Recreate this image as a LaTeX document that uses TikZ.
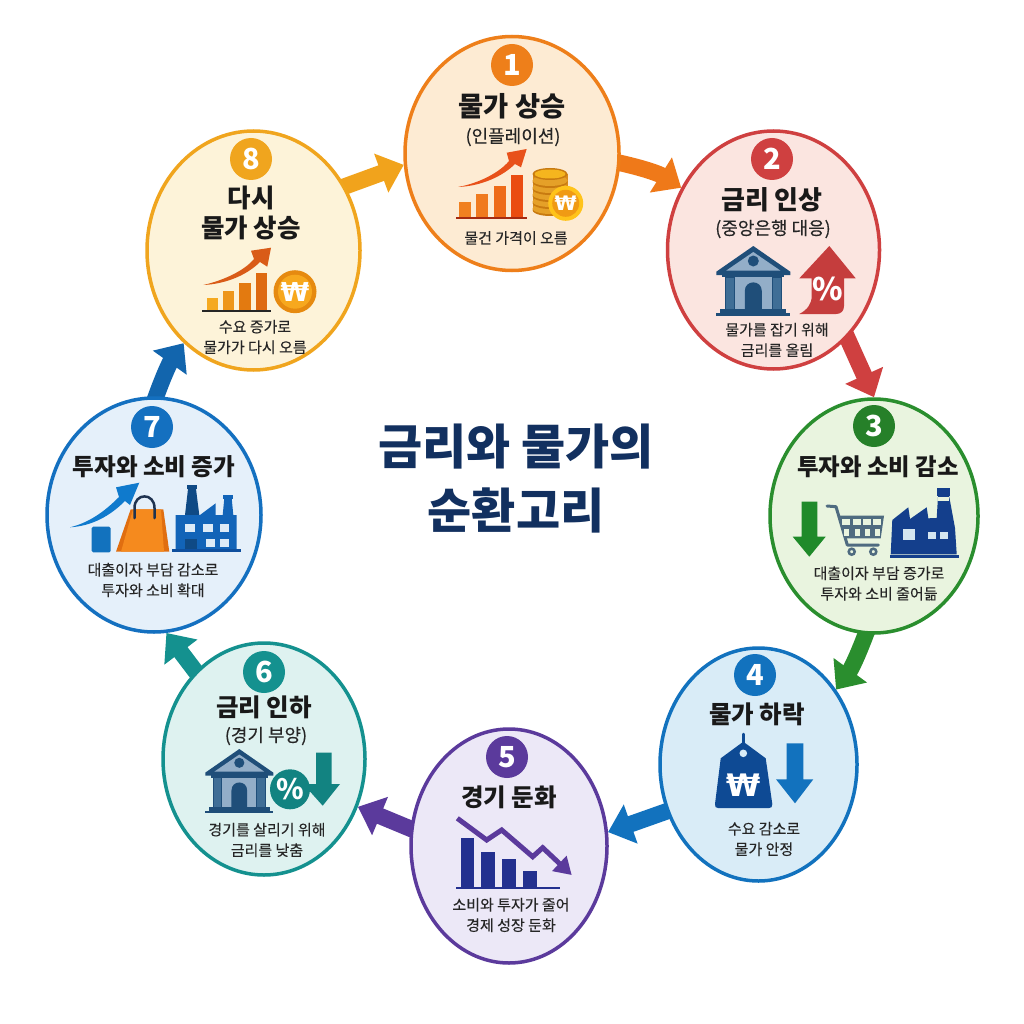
\documentclass[tikz,border=0pt]{standalone}
\usepackage{fontspec}
\setmainfont{Noto Sans CJK KR}
\newfontfamily\dfont[FakeBold=0.2]{Noto Sans CJK KR}
\newfontfamily\wonf{DejaVu Sans}
\usetikzlibrary{shapes.geometric,arrows.meta}
\pgfdeclarelayer{back}
\pgfsetlayers{back,main}
\definecolor{c1}{HTML}{EE7F1A}\definecolor{f1}{HTML}{FDEBD3}
\definecolor{c2}{HTML}{CF4040}\definecolor{f2}{HTML}{FBE5E0}
\definecolor{c3}{HTML}{2A8E2E}\definecolor{f3}{HTML}{E9F4DF}
\definecolor{c4}{HTML}{1272BE}\definecolor{f4}{HTML}{D9ECF7}
\definecolor{c5}{HTML}{5B3A9C}\definecolor{f5}{HTML}{ECE8F7}
\definecolor{c6}{HTML}{14918F}\definecolor{f6}{HTML}{DEF2F0}
\definecolor{c7}{HTML}{1470C0}\definecolor{f7}{HTML}{E5F0FA}
\definecolor{c8}{HTML}{F0A51E}\definecolor{f8}{HTML}{FDF3D9}
\definecolor{navy}{HTML}{12305F}
\definecolor{bankd}{HTML}{1F4E79}\definecolor{bankm}{HTML}{3F6E96}\definecolor{bankl}{HTML}{93AEC8}
\tikzset{
  x=1pt,y=-1pt,
  hexc/.code={\definecolor{tmpc}{HTML}{#1}\pgfkeysalso{color=tmpc}},
  stage/.style={ellipse,draw,line width=3.5pt,inner sep=0pt},
  badge/.style={circle,inner sep=0pt,minimum size=42pt,text=white,font=\fontsize{29}{29}\selectfont\bfseries},
  ttl/.style={inner sep=0pt,align=center,text=black!90,font=\fontsize{#1}{30}\selectfont\bfseries},
  ttl/.default=24.5,
  sub/.style={inner sep=0pt,align=center,text=black!85,font=\dfont\fontsize{18}{20}\selectfont},
  desc/.style={inner sep=0pt,align=center,text=black!85,font=\dfont\fontsize{15}{20.5}\selectfont},
  link/.style={line width=16.5pt,shorten <=-7pt,-{Triangle[length=24pt,width=40pt]}},
  won/.style={inner sep=0pt,text=white,font=\bfseries},
  wonsign/.style={inner sep=0pt,text=white,font=\wonf\fontsize{#1}{#1}\selectfont\bfseries},
  bank/.pic={
    \fill[bankd] (0,0) -- (37,25.7) -- (37,29) -- (-37,29) -- (-37,25.7) -- cycle;
    \fill[bankl] (0,6) -- (27,24.5) -- (-27,24.5) -- cycle;
    \fill[bankd] (0,15) circle (5.5);
    \fill[bankd] (-31,27) rectangle (31,31);
    \fill[bankl] (-28,31) rectangle (28,64);
    \fill[bankm,draw=bankd,line width=.8pt] (-28,31) rectangle (-19,64);
    \fill[bankm,draw=bankd,line width=.8pt] (19,31) rectangle (28,64);
    \fill[bankd] (-8.5,66) -- (-8.5,45) .. controls (-8.5,33.5) and (8.5,33.5) .. (8.5,45) -- (8.5,66) -- cycle;
    \fill[bankd] (-33,63) rectangle (33,67);
    \fill[bankd] (-37,67) rectangle (37,70);
  }
}
\begin{document}
\begin{tikzpicture}
\useasboundingbox (0,0) rectangle (1024,1024);
% stages
\node[stage,draw=c1,fill=f1,minimum width=214pt,minimum height=234pt] (n1) at (512,153.5) {};
\node[stage,draw=c2,fill=f2,minimum width=212pt,minimum height=238pt] (n2) at (773.5,250) {};
\node[stage,draw=c3,fill=f3,minimum width=208pt,minimum height=234pt] (n3) at (874,516) {};
\node[stage,draw=c4,fill=f4,minimum width=197pt,minimum height=233pt] (n4) at (758.5,764.5) {};
\node[stage,draw=c5,fill=f5,minimum width=196pt,minimum height=234pt] (n5) at (509,846) {};
\node[stage,draw=c6,fill=f6,minimum width=202pt,minimum height=232pt] (n6) at (264,759) {};
\node[stage,draw=c7,fill=f7,minimum width=214pt,minimum height=234pt] (n7) at (154,515) {};
\node[stage,draw=c8,fill=f8,minimum width=213pt,minimum height=239pt] (n8) at (253.5,250.5) {};
% connectors
\begin{pgfonlayer}{back}
\fill[white] (0,0) rectangle (1024,1024);
\draw[link,draw=c1!95!red] (n1.-5) to[bend left=10] (n2.146);
\draw[link,draw=c2] (n2.-50.6) to (n3.90.5);
\draw[link,draw=c3] (n3.-94.4) to[bend left=8] (n4.44.6);
\draw[link,draw=c4] (n4.207.4) to (n5.8);
\draw[link,draw=c5] (n5.170.5) to (n6.-27.5);
\draw[link,draw=c6] (n6.128.7) to (n7.-84);
\draw[link,draw=c7!90!black] (n7.89.5) to[bend left=8] (n8.233.8);
\draw[link,draw=c8!95!orange] (n8.35.4) to (n1.186);
\end{pgfonlayer}
% badges
\node[badge,fill=c1] (b1) at (512,65) {1};
\node[badge,fill=c2] (b2) at (772,159) {2};
\node[badge,fill=c3!90!black] (b3) at (874,426) {3};
\node[badge,fill=c4] (b4) at (755,675) {4};
\node[badge,fill=c5] (b5) at (507,757) {5};
\node[badge,fill=c6] (b6) at (264,672) {6};
\node[badge,fill=c7] (b7) at (152,427) {7};
\node[badge,fill=c8] (b8) at (251,159) {8};
% titles
\node[ttl=27.3] (t1) at (512,106) {물가 상승};
\node[ttl=26] (t2) at (772,200) {금리 인상};
\node[ttl=23.4] (t3) at (878,467) {투자와 소비 감소};
\node[ttl] (t4) at (757,714) {물가 하락};
\node[ttl] (t5) at (509,797) {경기 둔화};
\node[ttl] (t6) at (264,707) {금리 인하};
\node[ttl=23.6] (t7) at (154,467) {투자와 소비 증가};
\node[ttl=25.5] (t8) at (251,213) {다시\\물가 상승};
% subtitles
\node[sub] (s1) at (513,137) {(인플레이션)};
\node[sub] (s2) at (773,229) {(중앙은행 대응)};
\node[sub] (s6) at (266,736) {(경기 부양)};
% descriptions
\node[desc] (d1) at (516,238) {물건 가격이 오름};
\node[desc] (d2) at (777,340) {물가를 잡기 위해\\금리를 올림};
\node[desc] (d3) at (879,583.5) {대출이자 부담 증가로\\투자와 소비 줄어듦};
\node[desc] (d4) at (764,839) {수요 감소로\\물가 안정};
\node[desc] (d5) at (511,915) {소비와 투자가 줄어\\경제 성장 둔화};
\node[desc] (d6) at (267,840) {경기를 살리기 위해\\금리를 낮춤};
\node[desc] (d7) at (153,580) {대출이자 부담 감소로\\투자와 소비 확대};
\node[desc] (d8) at (255,337) {수요 증가로\\물가가 다시 오름};
% centre title
\node[inner sep=0pt,align=center,text=navy,font=\fontsize{48}{64}\selectfont\bfseries] (main) at (516,479) {금리와 물가의\\순환고리};
% icon 1
\fill[hexc=F08020] (459.3,202) rectangle (471.3,217);
\fill[hexc=F07A1E] (476,194) rectangle (488.3,217);
\fill[hexc=EE6B18] (493.7,185.7) rectangle (505.7,217);
\fill[hexc=EA4C10] (510.7,175) rectangle (523,217);
\draw[line width=2.5pt,hexc=A52A10] (456,218) -- (527,218);
\fill[hexc=E8511A] (458,187) .. controls (480,183) and (500,172) .. (509,161) -- (506.7,152.7) -- (526.7,149) -- (521,167.3) -- (515,164) .. controls (503,176) and (482,186) .. cycle;
\fill[hexc=D98A1A] (532.5,174) rectangle (567.5,212);
\foreach \yy in {210,203,196,189,182}{
  \fill[hexc=C87A10] (550,\yy) ellipse (17.5 and 6);
  \fill[hexc=E5A028] (550,\yy-1.5) ellipse (17.5 and 5.5);
}
\fill[hexc=C87A10] (550,174) ellipse (17.5 and 6);
\fill[hexc=F5B51E] (550,174) ellipse (15.5 and 4.5);
\fill[hexc=FFC31A] (565.7,203.3) circle (17.5);
\fill[hexc=F09A14] (565.7,203.3) circle (13.5);
\node[wonsign=20] (w1) at (565.7,203.3) {₩};
% icon 2
\pic at (753.3,246) {bank};
\fill[c2!95!black] (829.3,246) -- (855.7,278.3) -- (844,278.3) -- (844,306) .. controls (844,311) and (841,314) .. (836,314) -- (799.3,314) .. controls (807,310) and (811.7,304) .. (811.7,296) -- (811.7,278.3) -- (799.3,278.3) -- cycle;
\node[won,font=\fontsize{31}{31}\selectfont\bfseries] (pc2) at (828,289) {\%};
% icon 3
\fill[hexc=1F8A2A] (801.7,501.7) -- (817.3,501.7) -- (817.3,536.7) -- (825.7,536.7) -- (809.3,556.7) -- (792.7,536.7) -- (801.7,536.7) -- cycle;
\draw[hexc=4F6B80,line width=3pt,line join=round,line cap=round] (827,506) -- (836,506.7) -- (847.3,545) -- (878.3,545);
\fill[hexc=4F6B80] (839,515.7) -- (884,515.7) -- (880.7,538.3) -- (846,538.3) -- cycle;
\foreach \a/\b in {842/850,853.3/860.5,863.3/870.5,873.3/881}{
  \fill[f3] (\a,519) rectangle (\b,525);
  \fill[f3] (\a+1.5,528.5) rectangle (\b-1,535.5);
}
\draw[hexc=4F6B80,line width=2.5pt,fill=f3] (851.7,551.7) circle (3);
\draw[hexc=4F6B80,line width=2.5pt,fill=f3] (873.3,551.7) circle (3);
\fill[hexc=143F8C] (892.3,520) -- (908.3,507.3) -- (910,519) -- (926.7,507.3) -- (928.3,518.3) -- (936.7,518) -- (938.3,491.7) -- (948.3,491.7) -- (955,528) -- (956.7,554.3) -- (890.7,554.3) -- cycle;
\fill[hexc=143F8C] (936.7,487.7) rectangle (950,495.5);
\fill[f3] (937.5,496.5) rectangle (948.5,500.5);
\draw[hexc=143F8C,line width=3pt] (890,556) -- (959.3,556);
\fill[hexc=D5E6F0] (903.3,529.3) rectangle (915,540);
\fill[hexc=D5E6F0] (928.3,532.3) rectangle (936,539);
\fill[hexc=D5E6F0] (940,532.3) rectangle (948.3,539);
% icon 4
\draw[hexc=0E4A94,line width=2.5pt,line cap=round] (743.3,734) -- (743.3,744);
\fill[hexc=0E4A94] (743.3,741.7) -- (765.7,758.3) -- (772.3,804) .. controls (772.8,807) and (771,808) .. (769,808) -- (718,808) .. controls (716,808) and (714.5,807) .. (715,804) -- (720.7,758.3) -- cycle;
\fill[f4] (743.3,753.3) circle (3.8);
\node[wonsign=31] (w4) at (743.3,785) {₩};
\fill[c4] (786.7,743.3) -- (803.3,743.3) -- (803.3,779.3) -- (813.3,779.3) -- (795,803.3) -- (776,779.3) -- (786.7,779.3) -- cycle;
% icon 5
\foreach \a/\b/\t in {460.7/474.3/838.3,481/495/851.7,502.3/516/859.3,522.7/536.7/870.7}{
  \fill[hexc=23308F] (\a,\t) rectangle (\b,886.7);
}
\draw[hexc=23308F,line width=2.5pt] (456,888) -- (560,888);
\draw[c5,line width=5pt,miter limit=3,-{Triangle[length=17pt,width=20pt]}] (457.3,818.3) -- (486.7,840) -- (501.7,830) -- (532.7,856.7) -- (542.7,847.7) -- (571.7,875);
% icon 6
\pic[scale=.92] at (239.3,749) {bank};
\fill[c6!90!black] (316,752.7) -- (331.7,752.7) -- (331.7,784) -- (340,784) -- (322.7,805.7) -- (303.3,784) -- (316,784) -- cycle;
\fill[c6!90!black] (290,789.3) circle (20);
\node[won,font=\fontsize{28}{28}\selectfont\bfseries] (pc6) at (290,789.3) {\%};
% icon 7
\fill[hexc=0F7ACD] (70,527.3) .. controls (92,522) and (108,508) .. (119,497) -- (116,487.3) -- (139.3,482.7) -- (130,505) -- (125,501) .. controls (110,516) and (92,526) .. cycle;
\fill[c4,rounded corners=1.5pt] (91.7,526.7) rectangle (110.7,552.3);
\fill[hexc=E06E10] (130.7,509.3) -- (163.3,509.3) -- (169.3,551.7) -- (116,551.7) -- cycle;
\fill[hexc=F58A1E] (133,509.3) -- (161,509.3) -- (164,551.7) -- (121,551.7) -- cycle;
\draw[hexc=1F3350,line width=2.5pt,line cap=round] (134.5,518) -- (134.5,508) .. controls (134.5,492.5) and (154.5,492.5) .. (154.5,508) -- (154.5,518);
\fill[hexc=0F4A85] (185,515) -- (188,489) -- (196,489) -- (199.3,515) -- cycle;
\fill[hexc=0F4A85] (186.7,485) rectangle (197.3,489);
\fill[hexc=1264B8] (175.7,515) -- (200,515) -- (215.7,503.3) -- (215.7,515) -- (222.7,515) -- (224.3,498.3) -- (231.7,498.3) -- (233.3,515) -- (236.7,515) -- (236.7,550) -- (175.7,550) -- cycle;
\fill[hexc=1264B8] (222.5,495) rectangle (233,499);
\draw[hexc=0E4F9E,line width=3pt] (172.3,550.5) -- (240.7,550.5);
\foreach \a/\b in {185/195,202.7/212.7,220/229.3}{\fill[hexc=DDEBF7] (\a,524.3) rectangle (\b,531.7);}
\fill[hexc=0F4A85] (185,539) rectangle (196.7,549);
\foreach \a/\b in {205.7/215,220/229.3}{\fill[hexc=DDEBF7] (\a,539) rectangle (\b,546.7);}
% icon 8
\fill[hexc=F5A920] (206.7,297.7) rectangle (218.3,310);
\fill[hexc=EE961A] (222.7,291) rectangle (234,310);
\fill[hexc=E37A10] (239.3,283.3) rectangle (250.7,310);
\fill[hexc=DE6A10] (256,272.7) rectangle (267.3,310);
\draw[black!85,line width=2pt] (202.3,311.3) -- (271,311.3);
\fill[hexc=D95B18] (203.3,285) .. controls (225,280) and (245,270) .. (254,259) -- (251,250.7) -- (271,247.7) -- (267.3,266.7) -- (260,262) .. controls (247,275) and (226,284) .. cycle;
\fill[hexc=E68A10] (295,291.7) circle (21.5);
\fill[hexc=F7A81E] (295,291.7) circle (17);
\node[wonsign=26] (w8) at (295,291.7) {₩};
\end{tikzpicture}
\end{document}
